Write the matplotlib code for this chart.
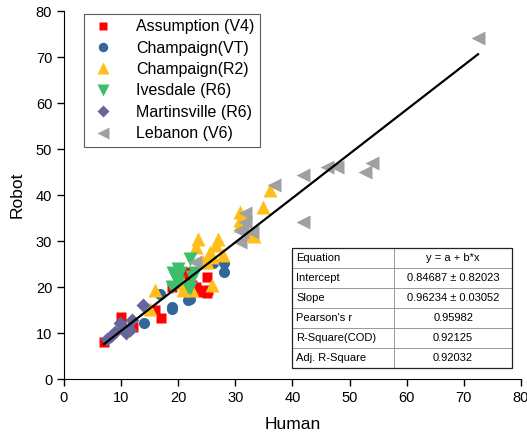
import matplotlib
matplotlib.use('Agg')
import matplotlib.pyplot as plt
from matplotlib.patches import Rectangle
import numpy as np

plt.rcParams['font.family'] = ['Liberation Sans', 'DejaVu Sans']

# data (Human count, Robot count)
assumption_x = [7, 10, 12, 16, 17, 19, 21.5, 21.8, 22.4, 23.2, 23.5, 24.1, 25, 25, 25.3]
assumption_y = [8, 13.4, 11.2, 15.1, 13.2, 20, 22.6, 23.3, 20.4, 20, 19.3, 19, 18.6, 22.2, 19.3]

champ_vt_x = [14, 16.8, 19, 19, 21.8, 22, 26.1, 28, 28]
champ_vt_y = [12.1, 18.4, 15.2, 15.7, 17.2, 17.5, 25.2, 25.2, 23.2]

champ_r2_x = [15.1, 15.9, 20.9, 20.9, 22.4, 23.2, 23.5, 24.4, 25, 25.6, 25.9, 25.9,
              26.7, 27, 27.9, 30.8, 30.8, 30.8, 32.9, 33.2, 34.9, 36.1]
champ_r2_y = [15.2, 19.3, 20.8, 19.3, 19.3, 28.6, 30.5, 25.5, 25.5, 27.7, 26.6, 20.4,
              29.1, 30.4, 27, 36.4, 34.6, 33.5, 31.5, 31.1, 37.3, 41.1]

ivesdale_x = [18.9, 19.1, 19.4, 20, 20, 20.3, 21.8, 22.1, 22.1, 22.4, 22.9]
ivesdale_y = [20.1, 23, 22.2, 24, 21.2, 23, 20.1, 26, 19.7, 22.2, 23]

martins_x = [7.5, 8.2, 8.9, 9.8, 10.5, 10.8, 11.6, 11.9, 13.9]
martins_y = [8.6, 9.3, 10.3, 12.1, 11, 9.9, 10.7, 12.8, 16.1]

lebanon_x = [72.5, 54, 52.7, 47.8, 46, 41.9, 41.9, 36.7, 32.9, 31.7, 31.7, 31.1, 30.8, 30.8, 22.9]
lebanon_y = [74.1, 47, 45.1, 46.2, 46.2, 44.3, 34.2, 42.2, 32, 36.2, 34.2, 32, 29.8, 32.4, 25.5]

# linear fit reported in the table
fit_a = 0.84687
fit_b = 0.96234
table_rows = [
    ['Equation', 'y = a + b*x'],
    ['Intercept', '0.84687 \u00b1 0.82023'],
    ['Slope', '0.96234 \u00b1 0.03052'],
    ["Pearson's r", '0.95982'],
    ['R-Square(COD)', '0.92125'],
    ['Adj. R-Square', '0.92032'],
]

fig = plt.figure(figsize=(5.27, 4.38), dpi=100)
ax = fig.add_axes([0.1214, 0.1347, 0.867, 0.840])

ax.plot(assumption_x, assumption_y, 's', color='#FF0000', ms=7, mec='none', label='Assumption (V4)')
ax.plot(champ_vt_x, champ_vt_y, 'o', color='#336699', ms=8, mec='none', label='Champaign(VT)')
ax.plot(champ_r2_x, champ_r2_y, '^', color='#FFBF1A', ms=10, mec='none', label='Champaign(R2)')
ax.plot(ivesdale_x, ivesdale_y, 'v', color='#3CBE6A', ms=10, mec='none', label='Ivesdale (R6)')
ax.plot(martins_x, martins_y, 'D', color='#66669A', ms=7.5, mec='none', label='Martinsville (R6)')
ax.plot(lebanon_x, lebanon_y, '<', color='#A0A0A0', ms=10, mec='none', label='Lebanon (V6)')

all_x = np.concatenate([assumption_x, champ_vt_x, champ_r2_x, ivesdale_x, martins_x, lebanon_x])
xl = np.array([all_x.min(), all_x.max()])
ax.plot(xl, fit_a + fit_b * xl, color='black', lw=1.6)

ax.set_xlim(0, 80)
ax.set_ylim(0, 80)
ax.set_xticks(range(0, 81, 10))
ax.set_yticks(range(0, 81, 10))
ax.spines['top'].set_visible(False)
ax.spines['right'].set_visible(False)
ax.tick_params(direction='out', length=5, width=1, labelsize=10.5)
ax.set_xlabel('Human', fontsize=12.5, labelpad=9)
ax.set_ylabel('Robot', fontsize=12.5, labelpad=8)

leg = ax.legend(loc='upper left', bbox_to_anchor=(0.044, 0.993), borderaxespad=0,
                fontsize=11.5, frameon=True, fancybox=False, edgecolor='#333333',
                handlelength=1.7, handletextpad=1.2, labelspacing=0.4,
                borderpad=0.35, markerscale=0.85)
leg.get_frame().set_linewidth(0.8)

tb = ax.table(cellText=table_rows, colWidths=[0.4636, 0.5364],
              bbox=[0.499, 0.030, 0.482, 0.326])
tb.auto_set_font_size(False)
for (r, c), cell in tb.get_celld().items():
    cell.set_edgecolor('#999999')
    cell.set_linewidth(0.7)
    cell.get_text().set_fontsize(8)
    if c == 0:
        cell.get_text().set_ha('left')
        cell.PAD = 0.04
    else:
        cell.get_text().set_ha('center')
ax.add_patch(Rectangle((0.499, 0.030), 0.482, 0.326, transform=ax.transAxes,
                       fill=False, edgecolor='#222222', lw=0.9, zorder=10, clip_on=False))

fig.savefig('out.png', dpi=100)
